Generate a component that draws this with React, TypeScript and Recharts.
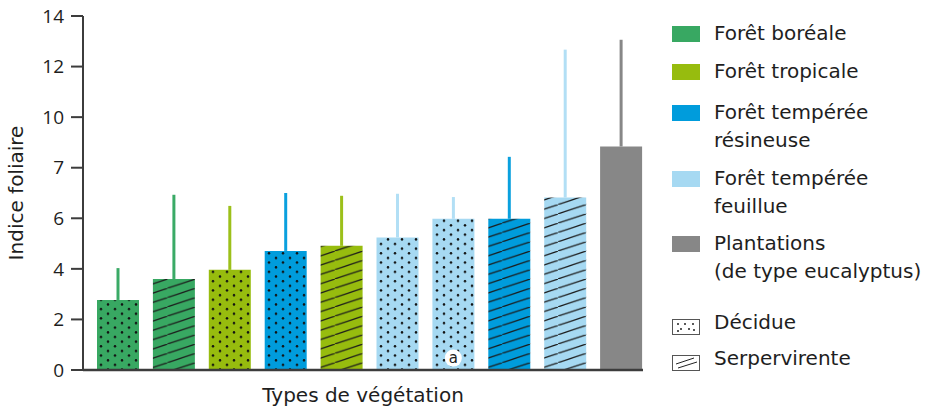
import React from 'react';
import { BarChart, Bar, XAxis, YAxis, Cell, ErrorBar, ReferenceDot } from 'recharts';

// one entry per bar, left to right
const categories = [
  'Boréale décidue',
  'Boréale serpervirente',
  'Tropicale décidue',
  'Tempérée résineuse décidue',
  'Tropicale serpervirente',
  'Tempérée feuillue décidue',
  'Tempérée feuillue décidue (a)',
  'Tempérée résineuse serpervirente',
  'Tempérée feuillue serpervirente',
  'Plantations',
];
const forestTypes = ['boreale', 'boreale', 'tropicale', 'resineuse', 'tropicale', 'feuillue', 'feuillue', 'resineuse', 'feuillue', 'plantation'];
const leafHabits = ['decidue', 'serpervirente', 'decidue', 'decidue', 'serpervirente', 'decidue', 'decidue', 'serpervirente', 'serpervirente', null];
const leafIndex = [2.77, 3.6, 3.96, 4.71, 4.91, 5.24, 5.98, 5.98, 6.82, 8.84];
const upperError = [1.26, 3.33, 2.53, 2.29, 1.98, 1.73, 0.86, 2.45, 5.85, 4.22];

const yTicks = [0, 2, 4, 6, 8, 10, 12, 14];
const yTickLabels = ['0', '2', '4', '6', '7', '10', '12', '14'];

const markedBar = categories[6];
const markLabel = 'a';
const markY = 0.47;

const types = ['boreale', 'tropicale', 'resineuse', 'feuillue', 'plantation'];
const typeColors: Record<string, string> = {
  boreale: '#38a862',
  tropicale: '#97bc0e',
  resineuse: '#009cdc',
  feuillue: '#a6d9f2',
  plantation: '#878787',
};
const errorColors: Record<string, string> = {
  boreale: '#3aaa66',
  tropicale: '#9cc01a',
  resineuse: '#0aa0de',
  feuillue: '#b2dff5',
  plantation: '#878787',
};

const tableData = categories.map((name, i) => {
  const row: Record<string, any> = { name, value: leafIndex[i] };
  types.forEach(t => {
    row[`err_${t}`] = forestTypes[i] === t ? [0, upperError[i]] : null;
  });
  return row;
});

const fillFor = (i: number) =>
  leafHabits[i] ? `url(#${leafHabits[i]}-${forestTypes[i]})` : typeColors[forestTypes[i]];

const font = '"DejaVu Sans", sans-serif';
const tickFont = '"Open Sans", sans-serif';
const textColor = '#1e1e1e';
const axisColor = '#3c3c3c';

const Patterns = () => (
  <svg width={0} height={0} style={{ position: 'absolute' }}>
    <defs>
      {types.map(t => (
        <React.Fragment key={t}>
          <pattern id={`decidue-${t}`} patternUnits="userSpaceOnUse" width={14} height={9.3}>
            <rect width={14} height={9.3} fill={typeColors[t]} />
            <circle cx={3} cy={2.2} r={1.25} fill="#111" />
            <circle cx={10} cy={6.9} r={1.25} fill="#111" />
          </pattern>
          <pattern id={`serpervirente-${t}`} patternUnits="userSpaceOnUse" width={27.9} height={9.3}>
            <rect width={27.9} height={9.3} fill={typeColors[t]} />
            <line x1={-27.9} y1={18.6} x2={55.8} y2={-9.3} stroke="#1a1a1a" strokeWidth={1.2} />
          </pattern>
        </React.Fragment>
      ))}
    </defs>
  </svg>
);

const legendItems = [
  { label: ['Forêt boréale'], top: 19, color: typeColors.boreale },
  { label: ['Forêt tropicale'], top: 57, color: typeColors.tropicale },
  { label: ['Forêt tempérée', 'résineuse'], top: 98, color: typeColors.resineuse },
  { label: ['Forêt tempérée', 'feuillue'], top: 164, color: typeColors.feuillue },
  { label: ['Plantations', '(de type eucalyptus)'], top: 229, color: typeColors.plantation },
];

const DotsIcon = () => (
  <svg width={28} height={16}>
    <rect x={0.5} y={0.5} width={27} height={15} fill="#fff" stroke="#555" strokeWidth={1} />
    {[[6, 5], [13, 5], [21, 5], [9, 10], [17, 10], [6, 12], [22, 11]].map(([cx, cy], i) => (
      <circle key={i} cx={cx} cy={cy} r={1} fill="#222" />
    ))}
  </svg>
);

const HatchIcon = () => (
  <svg width={28} height={16}>
    <rect x={0.5} y={0.5} width={27} height={15} fill="#fff" stroke="#555" strokeWidth={1} />
    <line x1={4} y1={9} x2={22} y2={3} stroke="#222" strokeWidth={1} />
    <line x1={6} y1={13} x2={25} y2={7} stroke="#222" strokeWidth={1} />
  </svg>
);

const Legend = () => (
  <div style={{ position: 'absolute', left: 0, top: 0, fontFamily: font, fontSize: 20, color: textColor }}>
    {legendItems.map(item => (
      <div key={item.label[0] + item.top} style={{ position: 'absolute', left: 672, top: item.top, width: 257 }}>
        <div style={{ position: 'absolute', left: 0, top: 7, width: 28, height: 16, background: item.color }} />
        <div style={{ position: 'absolute', left: 42, top: 0, lineHeight: '28px', whiteSpace: 'nowrap' }}>
          {item.label.map(l => <div key={l}>{l}</div>)}
        </div>
      </div>
    ))}
    <div style={{ position: 'absolute', left: 672, top: 308, width: 257 }}>
      <div style={{ position: 'absolute', left: 0, top: 8 }}><DotsIcon /></div>
      <div style={{ position: 'absolute', left: 42, top: 0, lineHeight: '28px' }}>Décidue</div>
    </div>
    <div style={{ position: 'absolute', left: 672, top: 344, width: 257 }}>
      <div style={{ position: 'absolute', left: 0, top: 8 }}><HatchIcon /></div>
      <div style={{ position: 'absolute', left: 42, top: 0, lineHeight: '28px' }}>Serpervirente</div>
    </div>
  </div>
);

export default function App() {
  return (
    <div style={{ position: 'absolute', left: 0, top: 0, width: 929, height: 407, background: '#fff' }}>
      <Patterns />
      <BarChart
        width={660}
        height={407}
        data={tableData}
        margin={{ top: 16, right: 17, bottom: 7, left: 0 }}
        style={{ fontFamily: font }}
      >
        <XAxis
          dataKey="name"
          tick={false}
          tickLine={false}
          height={30}
          padding={{ left: 7, right: -6 }}
          axisLine={{ stroke: axisColor, strokeWidth: 2.5 }}
          label={{ value: 'Types de végétation', position: 'insideBottom', offset: -2, fill: textColor, fontSize: 20 }}
        />
        <YAxis
          width={83}
          domain={[0, 14]}
          ticks={yTicks}
          interval={0}
          allowDataOverflow
          tickSize={12}
          tickMargin={7}
          tickFormatter={(v: number) => yTickLabels[yTicks.indexOf(v)]}
          tick={{ fill: textColor, fontSize: 19, fontFamily: tickFont }}
          axisLine={{ stroke: axisColor, strokeWidth: 2 }}
          tickLine={{ stroke: axisColor, strokeWidth: 2 }}
          label={{
            value: 'Indice foliaire',
            angle: -90,
            position: 'insideLeft',
            offset: 16,
            fill: textColor,
            fontSize: 20,
            style: { textAnchor: 'middle' },
          }}
        />
        <Bar dataKey="value" barSize={42} isAnimationActive={false}>
          {tableData.map((d, i) => (
            <Cell key={d.name} fill={fillFor(i)} />
          ))}
          {types.map(t => (
            <ErrorBar
              key={t}
              dataKey={`err_${t}`}
              width={0}
              strokeWidth={3}
              stroke={errorColors[t]}
              isAnimationActive={false}
            />
          ))}
        </Bar>
        <ReferenceDot
          x={markedBar}
          y={markY}
          r={8.5}
          fill="#fff"
          stroke="none"
          label={{ value: markLabel, position: 'center', fill: textColor, fontSize: 15 }}
        />
      </BarChart>
      <Legend />
    </div>
  );
}
